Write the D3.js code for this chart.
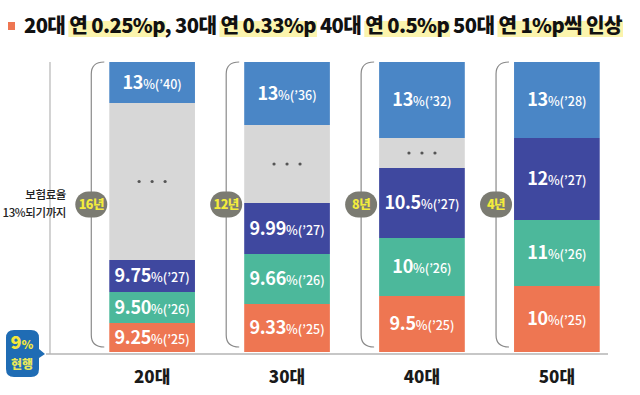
<!DOCTYPE html>
<html>
<head>
<meta charset="utf-8">
<script src="https://cdn.jsdelivr.net/npm/d3@7"></script>
<style>
  body { margin: 0; background: #fff; }
  svg { display: block; font-family: "Noto Sans CJK KR", "Noto Sans", sans-serif; }
</style>
</head>
<body>
<div id="chart"></div>
<script>
// Age groups along the bottom
var groups = ["20대", "30대", "40대", "50대"];
// Stack order, bottom to top: '25, '26, '27, gap ("..."), year the rate reaches 13%
var keys = ["y25", "y26", "y27", "gap", "target"];
// Rate labels per group (null = gap segment)
var rateLabels = [
    ["9.25", "9.50", "9.75", null, "13"],
    ["9.33", "9.66", "9.99", null, "13"],
    ["9.5", "10", "10.5", null, "13"],
    ["10", "11", "12", null, "13"]
];
var yearLabels = [
    ["25", "26", "27", null, "40"],
    ["25", "26", "27", null, "36"],
    ["25", "26", "27", null, "32"],
    ["25", "26", "27", null, "28"]
];
// Visual span of each segment as drawn in the graphic (not proportional to the rate)
var segSpan = [
    [29, 31, 32, 157, 41],
    [48, 50, 51, 78, 63],
    [56, 58, 70, 30, 76],
    [66, 66, 82, 0, 76]
];
// Years until 13%
var periods = ["16년", "12년", "8년", "4년"];
var titleText = "20대 연 0.25%p, 30대 연 0.33%p 40대 연 0.5%p 50대 연 1%p씩 인상";
var highlights = ["연 0.25%p", "연 0.33%p", "연 0.5%p", "연 1%p씩 인상"];

function drawChart() {
    d3.select("#chart").select("svg").remove();

    var W = 640, H = 395;
    var svg = d3.select("#chart").append("svg")
        .attr("width", W)
        .attr("height", H);

    var color = d3.scaleOrdinal()
        .domain(keys)
        .range(["#ee7652", "#4cb89b", "#3f489f", "#d7d7d7", "#4a86c6"]);

    // x: one band per age group
    var x = d3.scaleBand()
        .domain(groups)
        .range([85, 624])
        .paddingInner(0.365)
        .paddingOuter(0.18);

    // y: stacked display units
    var total = d3.max(segSpan, function (s) { return d3.sum(s); });
    var y = d3.scaleLinear()
        .domain([0, total])
        .range([352, 62]);

    // ---- title ----
    var title = svg.append("g");
    title.append("rect")
        .attr("x", 8).attr("y", 22)
        .attr("width", 7).attr("height", 8)
        .attr("fill", "#ee7652");
    var hlLayer = title.append("g");
    var tt = title.append("text")
        .attr("x", 24).attr("y", 33)
        .attr("font-size", 20)
        .attr("font-weight", 900)
        .attr("fill", "#111")
        .attr("letter-spacing", -0.6)
        .text(titleText);
    tt.attr("textLength", 598).attr("lengthAdjust", "spacingAndGlyphs");
    var node = tt.node();
    highlights.forEach(function (h) {
        var i = titleText.indexOf(h);
        var x0 = node.getStartPositionOfChar(i).x;
        var x1 = node.getEndPositionOfChar(i + h.length - 1).x;
        hlLayer.append("rect")
            .attr("x", x0 - 1).attr("y", 21)
            .attr("width", x1 - x0 + 2).attr("height", 16)
            .attr("fill", "#fbf4ad");
    });

    // ---- axes lines ----
    svg.append("line")
        .attr("x1", 50).attr("x2", 50)
        .attr("y1", 62).attr("y2", 354)
        .attr("stroke", "#b5b5b5").attr("stroke-width", 1.2);
    svg.append("line")
        .attr("x1", 46).attr("x2", 608)
        .attr("y1", 354).attr("y2", 354)
        .attr("stroke", "#b5b5b5").attr("stroke-width", 1.5);

    // left annotation
    var ann = svg.append("text")
        .attr("text-anchor", "end")
        .attr("font-size", 11.5)
        .attr("font-weight", 500)
        .attr("letter-spacing", -0.4)
        .attr("fill", "#222");
    ann.append("tspan").attr("x", 66).attr("y", 199).text("보험료율");
    ann.append("tspan").attr("x", 66).attr("y", 217).text("13%되기까지");

    // ---- bars ----
    groups.forEach(function (g, gi) {
        var bx = x(g), bw = x.bandwidth();
        var cx = bx + bw / 2;
        var stack = [];
        var acc = 0;
        keys.forEach(function (k, ki) {
            var span = segSpan[gi][ki];
            stack.push({ key: k, y0: acc, y1: acc + span, rate: rateLabels[gi][ki], year: yearLabels[gi][ki] });
            acc += span;
        });
        stack = stack.filter(function (d) { return d.y1 > d.y0; });

        var gg = svg.append("g");
        gg.selectAll("rect")
            .data(stack)
            .enter()
            .append("rect")
            .attr("x", bx)
            .attr("y", function (d) { return y(d.y1); })
            .attr("width", bw)
            .attr("height", function (d) { return y(d.y0) - y(d.y1); })
            .attr("fill", function (d) { return color(d.key); });

        stack.forEach(function (d) {
            var my = (y(d.y0) + y(d.y1)) / 2;
            if (d.key === "gap") {
                [-13, 0, 13].forEach(function (dx) {
                    gg.append("circle")
                        .attr("cx", cx + dx).attr("cy", my)
                        .attr("r", 1.6)
                        .attr("fill", "#555");
                });
                return;
            }
            var t = gg.append("text")
                .attr("x", cx).attr("y", my + 6)
                .attr("text-anchor", "middle")
                .attr("fill", "#fff")
                .attr("font-weight", 700);
            t.append("tspan").attr("font-size", 18).attr("letter-spacing", -0.3).text(d.rate);
            t.append("tspan").attr("font-size", 12.5).attr("font-weight", 500).text("%(’" + d.year + ")");
        });

        // bracket on the left of the bar
        var bxl = bx - 18;
        gg.append("path")
            .attr("d", "M" + (bxl + 13) + "," + 62 +
                " Q" + bxl + "," + 62 + " " + bxl + "," + 74 +
                " L" + bxl + "," + 335 +
                " Q" + bxl + "," + 347 + " " + (bxl + 13) + "," + 347)
            .attr("fill", "none")
            .attr("stroke", "#8a8a8a")
            .attr("stroke-width", 1.2);

        var py = (62 + 347) / 2;
        gg.append("rect")
            .attr("x", bxl - 16).attr("y", py - 13)
            .attr("width", 32).attr("height", 26)
            .attr("rx", 13)
            .attr("fill", "#7b7b72");
        gg.append("text")
            .attr("x", bxl).attr("y", py + 4.5)
            .attr("text-anchor", "middle")
            .attr("font-size", 12.5)
            .attr("font-weight", 900)
            .attr("letter-spacing", -0.5)
            .attr("fill", "#f3ec3c")
            .text(periods[gi]);

        // category label
        svg.append("text")
            .attr("x", cx).attr("y", 383)
            .attr("text-anchor", "middle")
            .attr("font-size", 17)
            .attr("font-weight", 900)
            .attr("fill", "#1a1a1a")
            .text(g);
    });

    // ---- "9% 현행" badge ----
    var badge = svg.append("g");
    badge.append("path")
        .attr("d", "M14,330 L31,330 Q39,330 39,338 L39,349 L45,354 L39,358 L39,369 Q39,377 31,377 L14,377 Q6,377 6,369 L6,338 Q6,330 14,330 Z")
        .attr("fill", "#1f6cb4");
    var b1 = badge.append("text")
        .attr("x", 22).attr("y", 349)
        .attr("text-anchor", "middle")
        .attr("font-weight", 900)
        .attr("fill", "#f3e63c");
    b1.append("tspan").attr("font-size", 18).text("9");
    b1.append("tspan").attr("font-size", 12).text("%");
    badge.append("text")
        .attr("x", 22).attr("y", 369)
        .attr("text-anchor", "middle")
        .attr("font-size", 12)
        .attr("font-weight", 900)
        .attr("fill", "#e8e85a")
        .text("현행");
}

document.addEventListener('DOMContentLoaded', drawChart);
</script>
</body>
</html>
